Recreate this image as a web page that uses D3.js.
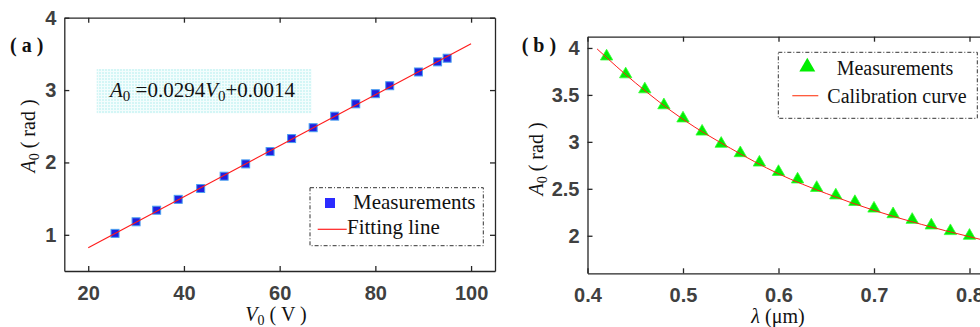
<!DOCTYPE html>
<html>
<head>
<meta charset="utf-8">
<script src="https://cdn.jsdelivr.net/npm/d3@7"></script>
<style>
body { margin: 0; background: #fff; }
svg { display: block; }
.tick text { font-family: "Liberation Sans", Arial, sans-serif; font-weight: bold; font-size: 20px; fill: #404040; }
.axis path, .axis line { stroke: #262626; stroke-width: 1.3; }
.serif { font-family: "Liberation Serif", "Times New Roman", serif; fill: #111; }
</style>
</head>
<body>
<div id="chart"></div>
<script>
// panel (a): amplitude vs voltage
var voltage = [25.6, 30.0, 34.3, 38.8, 43.5, 48.4, 52.9, 58.0, 62.5, 67.0, 71.5, 75.9, 80.0, 83.0, 89.0, 93.0, 95.0];
var ampA = [1.02, 1.18, 1.34, 1.49, 1.64, 1.81, 1.98, 2.15, 2.33, 2.48, 2.64, 2.81, 2.95, 3.06, 3.25, 3.39, 3.44];
var fitV = [20, 100];
var fitA = [0.82, 3.64];
var ticksA_x = [20, 40, 60, 80, 100];
var ticksA_y = [1, 2, 3, 4];

// panel (b): amplitude vs wavelength
var wavelength = [0.42, 0.44, 0.46, 0.48, 0.50, 0.52, 0.54, 0.56, 0.58, 0.60, 0.62, 0.64, 0.66, 0.68, 0.70, 0.72, 0.74, 0.76, 0.78, 0.80];
var ampB = [3.91, 3.72, 3.56, 3.39, 3.25, 3.11, 2.98, 2.88, 2.78, 2.68, 2.60, 2.51, 2.43, 2.36, 2.29, 2.23, 2.17, 2.11, 2.05, 2.00];
var calLambda = [0.41, 0.45, 0.50, 0.55, 0.60, 0.65, 0.70, 0.75, 0.80, 0.82];
var calA = [3.99, 3.63, 3.24, 2.93, 2.66, 2.45, 2.27, 2.12, 1.99, 1.94];
var ticksB_x = [0.4, 0.5, 0.6, 0.7, 0.8];
var ticksB_y = [2, 2.5, 3, 3.5, 4];

var width = 980, height = 327;

var svg = d3.select("#chart").append("svg")
    .attr("width", width)
    .attr("height", height);

// dotted cyan fill for the equation box
var defs = svg.append("defs");
var pat = defs.append("pattern")
    .attr("id", "dots")
    .attr("width", 3).attr("height", 3)
    .attr("patternUnits", "userSpaceOnUse");
pat.append("rect").attr("width", 3).attr("height", 3).attr("fill", "#f3fdfd");
pat.append("rect").attr("width", 2).attr("height", 2).attr("fill", "#d4f6f6");

function drawFrame(x, y, xt, yt, fmtX, fmtY, showRight) {
    var g = svg.append("g");
    var y0 = y.range()[0], y1 = y.range()[1];
    var x0 = x.range()[0], x1 = x.range()[1];

    g.append("g").attr("class", "axis")
        .attr("transform", "translate(0," + y0 + ")")
        .call(d3.axisBottom(x).tickValues(xt).tickSizeInner(-5).tickSizeOuter(0).tickPadding(15).tickFormat(fmtX));
    g.append("g").attr("class", "axis")
        .attr("transform", "translate(0," + y1 + ")")
        .call(d3.axisTop(x).tickValues(xt).tickSizeInner(-5).tickSizeOuter(0).tickFormat(""));
    g.append("g").attr("class", "axis")
        .attr("transform", "translate(" + x0 + ",0)")
        .call(d3.axisLeft(y).tickValues(yt).tickSizeInner(-5).tickSizeOuter(0).tickPadding(8).tickFormat(fmtY));
    if (showRight) {
        g.append("g").attr("class", "axis")
            .attr("transform", "translate(" + x1 + ",0)")
            .call(d3.axisRight(y).tickValues(yt).tickSizeInner(-5).tickSizeOuter(0).tickFormat(""));
    }
    return g;
}

// A0 ( rad ) label, rotated
function yLabel(cx, cy) {
    var t = svg.append("text").attr("class", "serif")
        .attr("transform", "translate(" + cx + "," + cy + ") rotate(-90)")
        .attr("text-anchor", "middle")
        .attr("font-size", 20);
    t.append("tspan").attr("font-style", "italic").text("A");
    t.append("tspan").attr("font-size", 14).attr("dy", 4).text("0");
    t.append("tspan").attr("dy", -4).text(" ( rad )");
}

function legendBox(x, y, w, h) {
    svg.append("rect")
        .attr("x", x).attr("y", y).attr("width", w).attr("height", h)
        .attr("fill", "#fff")
        .attr("stroke", "#333")
        .attr("stroke-width", 1)
        .attr("stroke-dasharray", "4,2,1,2");
}

// ---------- panel (a)
var xa = d3.scaleLinear().domain([15, 105]).range([64.3, 495]);
var ya = d3.scaleLinear().domain([0.5, 4]).range([271, 17.7]);

drawFrame(xa, ya, ticksA_x, ticksA_y, d3.format("d"), d3.format("d"), true);

// equation
svg.append("rect")
    .attr("x", 96.7).attr("y", 69).attr("width", 215).attr("height", 44.3)
    .attr("fill", "url(#dots)");
var eq = svg.append("text").attr("class", "serif")
    .attr("x", 110).attr("y", 97).attr("font-size", 21);
eq.append("tspan").attr("font-style", "italic").text("A");
eq.append("tspan").attr("font-size", 15).attr("dy", 4).text("0");
eq.append("tspan").attr("dy", -4).text(" =0.0294");
eq.append("tspan").attr("font-style", "italic").text("V");
eq.append("tspan").attr("font-size", 15).attr("dy", 4).text("0");
eq.append("tspan").attr("dy", -4).text("+0.0014");

var lineA = d3.line()
    .x(function(d) { return xa(d[0]); })
    .y(function(d) { return ya(d[1]); });

svg.append("g").selectAll("rect")
    .data(d3.zip(voltage, ampA))
    .enter().append("rect")
    .attr("x", function(d) { return xa(d[0]) - 4; })
    .attr("y", function(d) { return ya(d[1]) - 4; })
    .attr("width", 8).attr("height", 8)
    .attr("fill", "#1f1fe0")
    .attr("stroke", "#4aa0f0")
    .attr("stroke-width", 1);

// fitting line drawn over the markers
svg.append("path")
    .datum(d3.zip(fitV, fitA))
    .attr("d", lineA)
    .attr("fill", "none")
    .attr("stroke", "#ff1a1a")
    .attr("stroke-width", 1.1);

legendBox(310, 187.7, 173.3, 58);
svg.append("rect").attr("x", 325).attr("y", 198).attr("width", 10).attr("height", 10)
    .attr("fill", "#2b2bff");
svg.append("text").attr("class", "serif").attr("x", 353).attr("y", 209)
    .attr("font-size", 21).text("Measurements");
svg.append("line").attr("x1", 317.7).attr("x2", 346.7).attr("y1", 229.3).attr("y2", 229.3)
    .attr("stroke", "#ff2020").attr("stroke-width", 1.2);
svg.append("text").attr("class", "serif").attr("x", 347).attr("y", 234)
    .attr("font-size", 21).text("Fitting line");

svg.append("text").attr("class", "serif").attr("x", 10).attr("y", 52)
    .attr("font-size", 20).attr("font-weight", "bold").text("( a )");

yLabel(35, 136);

var xla = svg.append("text").attr("class", "serif")
    .attr("x", 276).attr("y", 321).attr("text-anchor", "middle").attr("font-size", 20);
xla.append("tspan").attr("font-style", "italic").text("V");
xla.append("tspan").attr("font-size", 14).attr("dy", 4).text("0");
xla.append("tspan").attr("dy", -4).text(" ( V )");

// ---------- panel (b)
var xb = d3.scaleLinear().domain([0.4, 0.82]).range([587.5, 988.6]);
var yb = d3.scaleLinear().domain([1.6, 4.12]).range([273.3, 36.7]);

drawFrame(xb, yb, ticksB_x, ticksB_y, d3.format(".1f"), function(d) { return d % 1 ? d3.format(".1f")(d) : d3.format("d")(d); }, false);

var lineB = d3.line()
    .curve(d3.curveMonotoneX)
    .x(function(d) { return xb(d[0]); })
    .y(function(d) { return yb(d[1]); });

var tri = d3.symbol().type(d3.symbolTriangle).size(66);

svg.append("g").selectAll("path")
    .data(d3.zip(wavelength, ampB))
    .enter().append("path")
    .attr("d", tri)
    .attr("transform", function(d) { return "translate(" + xb(d[0]) + "," + yb(d[1]) + ")"; })
    .attr("fill", "#00ee00")
    .attr("stroke", "#33ff33")
    .attr("stroke-width", 0.8);

svg.append("path")
    .datum(d3.zip(calLambda, calA))
    .attr("d", lineB)
    .attr("fill", "none")
    .attr("stroke", "#ff1a1a")
    .attr("stroke-width", 1);

legendBox(778.3, 52.3, 199, 66);
svg.append("path").attr("d", d3.symbol().type(d3.symbolTriangle).size(110))
    .attr("transform", "translate(807.3,67)")
    .attr("fill", "#00ee00");
svg.append("text").attr("class", "serif").attr("x", 836.7).attr("y", 74.5)
    .attr("font-size", 20).text("Measurements");
svg.append("line").attr("x1", 792.3).attr("x2", 818.3).attr("y1", 95.7).attr("y2", 95.7)
    .attr("stroke", "#ff4a2a").attr("stroke-width", 1.2);
svg.append("text").attr("class", "serif").attr("x", 827.3).attr("y", 102.7)
    .attr("font-size", 20).text("Calibration curve");

svg.append("text").attr("class", "serif").attr("x", 521.7).attr("y", 52)
    .attr("font-size", 20).attr("font-weight", "bold").text("( b )");

yLabel(543, 159);

var xlb = svg.append("text").attr("class", "serif")
    .attr("x", 778).attr("y", 323).attr("text-anchor", "middle").attr("font-size", 20);
xlb.append("tspan").attr("font-style", "italic").text("λ");
xlb.append("tspan").text(" (μm)");
</script>
</body>
</html>
